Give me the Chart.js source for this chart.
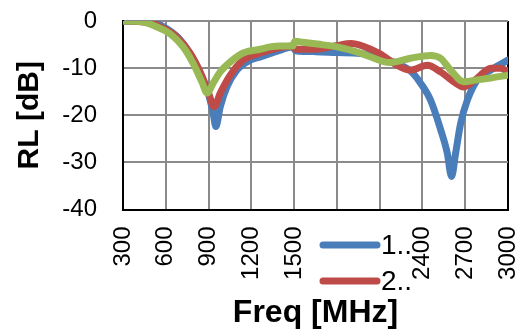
<!DOCTYPE html>
<html><head><meta charset="utf-8">
<script src="https://cdn.jsdelivr.net/npm/chart.js@4"></script>
<style>html,body{margin:0;padding:0;background:#fff}#w{width:521px;height:333px}</style>
</head><body><div id="w"><canvas id="c"></canvas></div>
<script>
const seriesLabels = ['1..', '2..', '3..'];
const xTicks = [300, 600, 900, 1200, 1500, 1800, 2100, 2400, 2700, 3000];
const yTicks = [0, -10, -20, -30, -40];

const blueMHz = [300, 400, 511, 572, 686, 783, 853, 904, 932, 951, 982, 1029, 1099, 1192, 1263, 1350, 1420, 1490, 1510, 1650, 1800, 1965, 2100, 2197, 2316, 2387, 2457, 2527, 2574, 2604, 2633, 2668, 2715, 2785, 2879, 3000];
const blueRL  = [0, -0.1, -0.3, -1.0, -3.5, -7.6, -11.8, -16, -19.5, -22.4, -18.2, -14, -10.4, -8.3, -7.6, -6.7, -6.0, -5.5, -6.3, -6.5, -6.7, -6.9, -7.9, -8.7, -10.6, -13.2, -16.8, -23, -28, -33, -28, -21.7, -16.8, -12.5, -10.4, -8.3];

const redMHz = [300, 400, 500, 560, 677, 771, 841, 897, 939, 982, 1052, 1143, 1263, 1350, 1490, 1510, 1650, 1800, 1900, 1980, 2106, 2200, 2316, 2434, 2527, 2619, 2689, 2785, 2879, 2949, 3000];
const redRL  = [0, -0.1, -0.4, -1.2, -3.4, -6.8, -10.8, -15, -18.2, -15.3, -11.5, -8.3, -6.8, -6.0, -5.3, -6.0, -6.0, -5.2, -4.8, -5.3, -7.0, -9.0, -10.4, -9.4, -10.8, -12.9, -14, -12.1, -10.0, -10.0, -10.8];

const greenMHz = [300, 420, 511, 630, 722, 792, 853, 890, 932, 982, 1052, 1143, 1263, 1333, 1400, 1490, 1505, 1560, 1661, 1801, 1965, 2127, 2176, 2316, 2457, 2527, 2597, 2689, 2785, 2879, 3000];
const greenRL  = [0, -0.1, -0.9, -2.7, -5.5, -9, -12.9, -15.3, -13.2, -10.8, -8.7, -6.8, -6.0, -5.5, -5.3, -5.3, -4.3, -4.5, -4.9, -5.5, -6.8, -8.6, -8.8, -7.9, -7.3, -7.9, -10.4, -12.9, -12.5, -12.1, -11.5];

const colors = ['#4a7ebb', '#be4b48', '#98b954'];

function pts(xs, ys) { return xs.map((x, i) => ({x: x, y: ys[i]})); }

const legendPlugin = {
  id: 'boxLegend',
  afterDraw(chart) {
    const ctx = chart.ctx;
    ctx.save();
    ctx.fillStyle = '#ffffff';
    ctx.fillRect(317, 227, 93, 70);
    const rows = [245, 281];
    for (let i = 0; i < 2; i++) {
      const ds = chart.data.datasets[i];
      ctx.strokeStyle = ds.borderColor;
      ctx.lineWidth = 7;
      ctx.lineCap = 'round';
      ctx.beginPath();
      ctx.moveTo(323, rows[i]);
      ctx.lineTo(377, rows[i]);
      ctx.stroke();
      ctx.fillStyle = '#000';
      ctx.font = '28px "Liberation Sans", Arial, sans-serif';
      ctx.textAlign = 'left';
      ctx.textBaseline = 'middle';
      ctx.fillText(ds.label, 381, rows[i] + 1);
    }
    ctx.restore();
  }
};

const tickFont = {family: '"Liberation Sans", Arial, sans-serif', size: 24, lineHeight: 1};
const xTitleFont = {family: '"Liberation Sans", Arial, sans-serif', size: 32, weight: 'bold', lineHeight: 1.2};
const yTitleFont = {family: '"Liberation Sans", Arial, sans-serif', size: 30, weight: 'bold', lineHeight: 1.2};

function noPad(s) { s.paddingLeft = 0; s.paddingRight = 0; s.paddingTop = 0; s.paddingBottom = 0; }

new Chart(document.getElementById('c'), {
  type: 'line',
  data: {
    datasets: [
      {label: seriesLabels[0], data: pts(blueMHz, blueRL), borderColor: colors[0], order: 3},
      {label: seriesLabels[1], data: pts(redMHz, redRL), borderColor: colors[1], order: 2},
      {label: seriesLabels[2], data: pts(greenMHz, greenRL), borderColor: colors[2], order: 1}
    ].map(d => Object.assign(d, {borderWidth: 7, pointRadius: 0, fill: false, cubicInterpolationMode: 'monotone', borderCapStyle: 'round', borderJoinStyle: 'round'}))
  },
  options: {
    responsive: true,
    maintainAspectRatio: false,
    animation: false,
    events: [],
    layout: {padding: {top: 21, right: 13, left: 0, bottom: 0}},
    plugins: {legend: {display: false}, tooltip: {enabled: false}},
    scales: {
      x: {
        type: 'linear', min: 300, max: 3000,
        afterBuildTicks(s) { s.ticks = xTicks.map(v => ({value: v})); },
        afterFit(s) { s.height = 123.5; noPad(s); },
        ticks: {color: '#000', font: tickFont, minRotation: 90, maxRotation: 90, padding: 17, autoSkip: false, callback: v => String(v)},
        grid: {color: ctx => (ctx.index === xTicks.length - 1 ? '#000' : '#8a8a8a'), lineWidth: 2, drawTicks: false},
        border: {color: '#000', width: 2},
        title: {display: true, text: 'Freq [MHz]', color: '#000', font: xTitleFont, padding: {top: 0, bottom: 1}}
      },
      y: {
        type: 'linear', min: -40, max: 0,
        afterBuildTicks(s) { s.ticks = yTicks.map(v => ({value: v})); },
        afterFit(s) { s.width = 123; noPad(s); },
        ticks: {color: '#000', font: tickFont, padding: 26, callback: v => String(v)},
        grid: {color: '#8a8a8a', lineWidth: 2, drawTicks: false},
        border: {color: '#000', width: 2},
        title: {display: true, text: 'RL [dB]', color: '#000', font: yTitleFont, padding: {top: 12, bottom: 0}}
      }
    }
  },
  plugins: [legendPlugin]
});
</script>
</body></html>
